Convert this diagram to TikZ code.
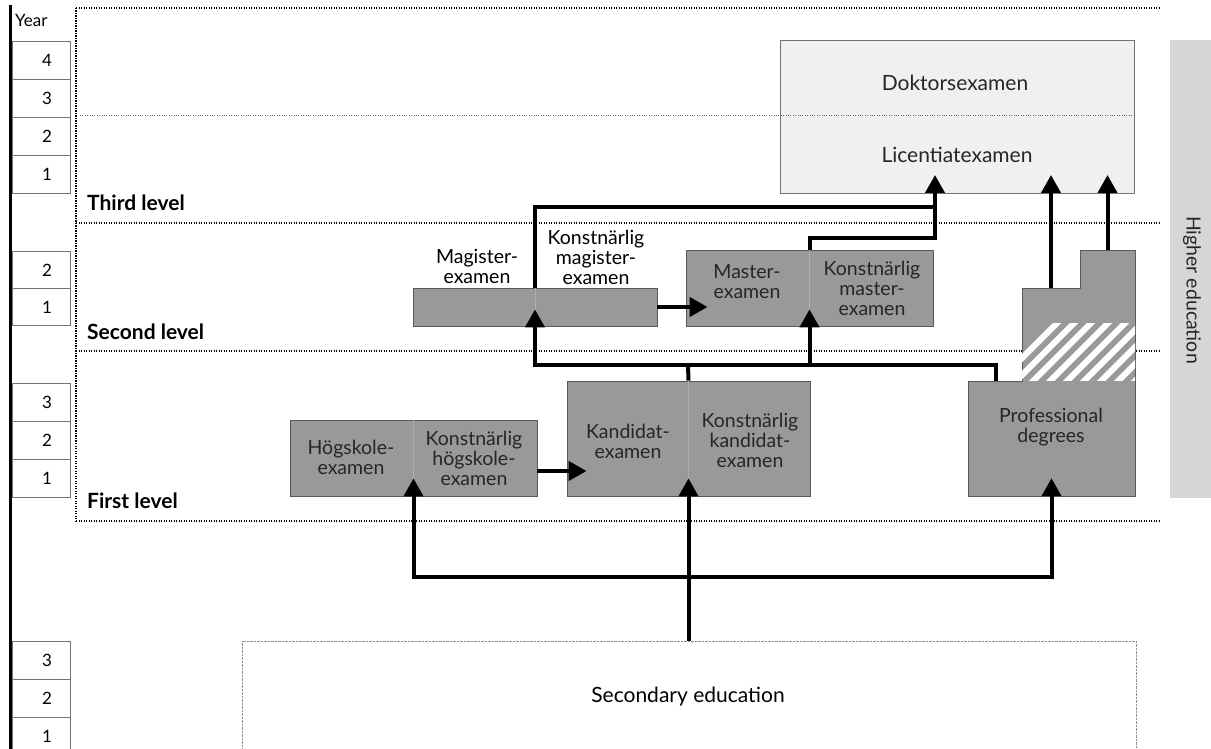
\documentclass[tikz,border=0pt]{standalone}
\usepackage{fontspec}
\setmainfont{Lato}
\usetikzlibrary{arrows.meta}

\tikzset{
	degbox/.style={draw=black!65, line width=0.8pt, fill=black!40, inner sep=0pt},
	lbl/.style={align=center, font=\fontsize{19.5}{20}\selectfont, text=black!85, inner sep=0pt},
	conn/.style={line width=4pt},
	tip/.style={-{Triangle[length=18pt,width=19pt]}},
	lvl/.style={line width=1.1pt, dash pattern=on 1.1pt off 1.4pt},
	lvltext/.style={anchor=west, inner sep=0pt, font=\fontsize{21}{22}\selectfont\bfseries},
	yrbox/.style={draw=black!55, line width=0.7pt, minimum width=58pt, minimum height=38pt, inner sep=0pt},
	yrnum/.style={font=\fontsize{17}{19}\selectfont, inner sep=0pt},
	divider/.style={white!75!black, line width=0.8pt, dash pattern=on 1pt off 1pt},
}

\begin{document}
\begin{tikzpicture}[x=1pt, y=-1pt]
	\useasboundingbox (0,0) rectangle (1211,749); % Rand wie im Original

	% Jahresspalte
	\draw[line width=3pt] (10,5) -- (10,749);
	\node[anchor=west, yrnum] (year) at (15,20) {Year};
	\foreach \n/\y in {4/60,3/98,2/136,1/174} {
		\node[yrbox] (ya\n) at (41,\y) {};
		\node[yrnum] (yna\n) at (47,\y) {\n};
	}
	\foreach \n/\y in {2/270,1/307} {
		\node[yrbox, minimum height=37pt] (yb\n) at (41,\y) {};
		\node[yrnum] (ynb\n) at (47,\y) {\n};
	}
	\foreach \n/\y in {3/402,2/440,1/478} {
		\node[yrbox] (yc\n) at (41,\y) {};
		\node[yrnum] (ync\n) at (47,\y) {\n};
	}
	\foreach \n/\y in {3/660,2/698,1/736} {
		\node[yrbox] (yd\n) at (41,\y) {};
		\node[yrnum] (ynd\n) at (47,\y) {\n};
	}

	% Ebenen
	\draw[lvl] (76,8) -- (76,521);
	\draw[lvl] (76,8) -- (1160,8);
	\draw[lvl] (76,223) -- (1160,223);
	\draw[lvl] (76,351) -- (1160,351);
	\draw[lvl] (76,521) -- (1160,521);
	\node[lvltext] (third) at (87,203) {Third level};
	\node[lvltext] (second) at (87,332) {Second level};
	\node[lvltext] (first) at (87,501) {First level};

	\node[fill=black!16, minimum width=41pt, minimum height=458pt, inner sep=0pt] (hbar) at (1190.5,269) {};
	\node[lbl, rotate=-90] (thigh) at (1192,290) {Higher education};

	% Forschung
	\node[fill=black!6, draw=black!55, line width=0.6pt, minimum width=354pt, minimum height=153pt] (doc) at (957,116.5) {};
	\draw[black!60, line width=0.6pt, dash pattern=on 0.8pt off 1.6pt] (80,115) -- (1134,115);
	\node[lbl, font=\fontsize{21}{22}\selectfont] (tdok) at (955,83) {Doktorsexamen};
	\node[lbl, font=\fontsize{21}{22}\selectfont] (tlic) at (957,155) {Licentiatexamen};

	% Abschluesse
	\node[degbox, minimum width=244pt, minimum height=38pt] (mag) at (535,307) {};
	\node[degbox, minimum width=247pt, minimum height=76pt] (mast) at (809.5,288) {};
	\node[degbox, minimum width=247pt, minimum height=76pt] (hsk) at (413.5,458) {};
	\node[degbox, minimum width=243pt, minimum height=115pt] (kand) at (688.5,438.5) {};
	\draw[divider] (mag.north) -- (mag.south);
	\draw[divider] (mast.north) -- (mast.south);
	\draw[divider] (hsk.north) -- (hsk.south);
	\draw[divider] (kand.north) -- (kand.south);

	\fill[black!40, draw=black!65, line width=0.8pt] (968,381) -- (1022,381) -- (1022,288) -- (1080,288) -- (1080,250) -- (1135,250) -- (1135,496) -- (968,496) -- cycle;
	\begin{scope}
		\clip (1022,323) rectangle (1135,380);
		\foreach \k in {0,...,9}
			\draw[white, line width=6pt] (985+\k*17,395) -- ++(80,-80);
	\end{scope}
	\node[minimum width=167pt, minimum height=115pt, inner sep=0pt] (prof) at (1051.5,438.5) {};
	\coordinate (profmid) at (1051,288);
	\coordinate (proftop) at (1107.5,250);

	\node[lbl, text=black] (tmag) at (477,266) {Magister-\\examen};
	\node[lbl, text=black] (tkmag) at (596,257) {Konstnärlig\\magister-\\examen};
	\node[lbl] (tmast) at (747,282) {Master-\\examen};
	\node[lbl] (tkmast) at (872,288) {Konstnärlig\\master-\\examen};
	\node[lbl] (thsk) at (351,457) {Högskole-\\examen};
	\node[lbl] (tkhsk) at (474,458) {Konstnärlig\\högskole-\\examen};
	\node[lbl] (tkand) at (628,441) {Kandidat-\\examen};
	\node[lbl] (tkkand) at (750,440) {Konstnärlig\\kandidat-\\examen};
	\node[lbl] (tprof) at (1051,427) {Professional\\degrees};

	% Gymnasium
	\node[draw=black!45, line width=0.6pt, dash pattern=on 0.6pt off 0.8pt, minimum width=894pt, minimum height=120pt] (sec) at (689,701) {};
	\node[lbl, text=black, font=\fontsize{21}{22}\selectfont] (tsec) at (688,697) {Secondary education};

	% Wege
	\coordinate (splitA) at (688,577);
	\coordinate (splitB) at (688,365);
	\coordinate (licA) at (935,175);

	\draw[conn, tip] (kand.south |- sec.north) -- ([yshift=18pt]kand.south);
	\draw[conn, tip] (splitA) -| ([yshift=18pt]hsk.south);
	\draw[conn, tip] (splitA) -| ([yshift=18pt]prof.south);

	\draw[conn] (kand.north) -- (splitB);
	\draw[conn, tip] (splitB) -| ([yshift=17pt]mag.south);
	\draw[conn, tip] (splitB) -| ([yshift=17pt]mast.south);
	\draw[conn] (splitB) -| ([xshift=-56pt]prof.north);

	\draw[conn, tip] ([yshift=-13pt]hsk.east) -- ([yshift=-13pt,xshift=20pt]hsk.east -| kand.west);
	\draw[conn, tip] (mag.east) -- ([xshift=22pt]mag.east -| mast.west);

	\draw[conn] (mag.north) |- ([yshift=-32pt]licA);
	\draw[conn, tip] (mast.north) |- ([yshift=-63pt]licA) -- (licA);
	\draw[conn, tip] (profmid) -- (profmid |- licA);
	\draw[conn, tip] (proftop) -- (proftop |- licA);

	%\draw[help lines] (0,0) grid[step=50] (1211,749);
\end{tikzpicture}
\end{document}
